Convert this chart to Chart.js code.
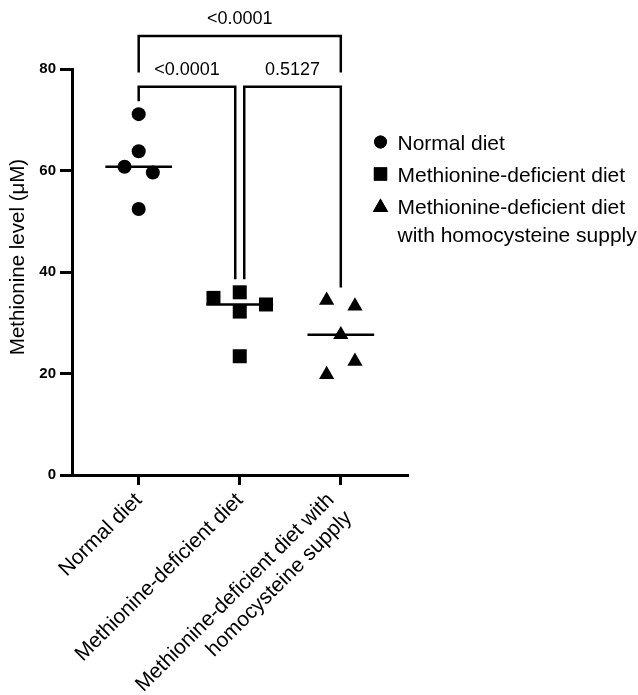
<!DOCTYPE html>
<html>
<head>
<meta charset="utf-8">
<script src="https://cdn.jsdelivr.net/npm/chart.js@4.4.1/dist/chart.umd.min.js"></script>
<style>
html,body{margin:0;padding:0;background:#fff;}
#wrap{width:638px;height:695px;position:relative;}
</style>
</head>
<body>
<div id="wrap"><canvas id="c" width="638" height="695"></canvas></div>
<script>
// ---- data ----
const categories = ['Normal diet', 'Methionine-deficient diet', ['Methionine-deficient diet with', 'homocysteine supply']];
const legendLabels = [['Normal diet'], ['Methionine-deficient diet'], ['Methionine-deficient diet', 'with homocysteine supply']];
const yAxisTitle = 'Methionine level (\u03bcM)';
const yTicks = [0, 20, 40, 60, 80];

const normalDiet = [71.1, 63.8, 60.75, 59.6, 52.4];
const normalJitter = [0, 0, -0.14, 0.14, 0];
const metDeficient = [34.9, 36.0, 32.2, 33.6, 23.4];
const metDeficientJitter = [-0.26, 0, 0, 0.26, 0];
const metHcy = [34.4, 33.3, 27.65, 22.4, 19.8];
const metHcyJitter = [-0.14, 0.14, 0, 0.14, -0.14];

const comparisonFrom = [0, 0, 1];
const comparisonTo = [2, 1, 2];
const comparisonP = ['<0.0001', '<0.0001', '0.5127'];

// ---- build ----
const groups = [normalDiet, metDeficient, metHcy];
const jitters = [normalJitter, metDeficientJitter, metHcyJitter];
const styles = ['circle', 'rect', 'triangle'];
const radii = [7, 9.9, 8.8];
const MEDIAN_HALF = 0.33;

function median(a) {
  const s = [...a].sort((p, q) => p - q);
  const m = Math.floor(s.length / 2);
  return s.length % 2 ? s[m] : (s[m - 1] + s[m]) / 2;
}

const datasets = [];
groups.forEach((vals, gi) => {
  const m = median(vals);
  datasets.push({
    type: 'line',
    data: [{x: gi - MEDIAN_HALF, y: m}, {x: gi + MEDIAN_HALF, y: m}],
    borderColor: '#000', borderWidth: 2.5, pointRadius: 0, fill: false, order: 2
  });
});
groups.forEach((vals, gi) => {
  datasets.push({
    type: 'scatter',
    label: legendLabels[gi].join(' '),
    data: vals.map((v, k) => ({x: gi + jitters[gi][k], y: v})),
    pointStyle: styles[gi], pointRadius: radii[gi], pointHoverRadius: radii[gi],
    backgroundColor: '#000', borderColor: '#000', borderWidth: 0, order: 1
  });
});

const FONT = "'Liberation Sans', Arial, Helvetica, sans-serif";

const annot = {
  id: 'annot',
  beforeDraw(chart) {
    // centre the two-line category label on its tick like the reference
    const xs = chart.scales.x;
    const items = xs.getLabelItems(chart.chartArea);
    items.forEach(it => {
      if (Array.isArray(it.label) && !it._shifted) {
        it.options.translation[0] -= 10;
        it._shifted = true;
      }
    });
  },
  afterDraw(chart) {
    const ctx = chart.ctx;
    const xs = chart.scales.x, ys = chart.scales.y;
    const ca = chart.chartArea;
    ctx.save();
    ctx.strokeStyle = '#000';
    ctx.fillStyle = '#000';
    ctx.lineWidth = 2.5;
    ctx.lineCap = 'butt';
    // brackets
    const gap = 4.5;
    const legEnd = gi => ys.getPixelForValue(Math.max(...groups[gi])) - 13;
    const lowY = ys.getPixelForValue(76.5);
    const highY = ys.getPixelForValue(86.5);
    const highLeg = ys.getPixelForValue(79.3);
    for (let i = 0; i < comparisonP.length; i++) {
      const a = comparisonFrom[i], b = comparisonTo[i];
      const span = b - a;
      let xa = xs.getPixelForValue(a), xb = xs.getPixelForValue(b);
      let y, ya, yb;
      if (span > 1) {
        y = highY; ya = highLeg; yb = highLeg;
      } else {
        y = lowY;
        ya = legEnd(a); yb = legEnd(b);
        if (a === 1) xa += gap;
        if (b === 1) xb -= gap;
      }
      ctx.beginPath();
      ctx.moveTo(xa, ya);
      ctx.lineTo(xa, y);
      ctx.lineTo(xb, y);
      ctx.lineTo(xb, yb);
      ctx.stroke();
      ctx.font = '18px ' + FONT;
      ctx.textAlign = 'center';
      ctx.textBaseline = 'alphabetic';
      ctx.fillText(comparisonP[i], (xa + xb) / 2, y - 12);
    }
    // y axis title
    ctx.save();
    ctx.translate(18.5, (ca.top + ca.bottom) / 2 - 15);
    ctx.rotate(-Math.PI / 2);
    ctx.font = '20.5px ' + FONT;
    ctx.textAlign = 'center';
    ctx.textBaseline = 'middle';
    ctx.fillText(yAxisTitle, 0, 0);
    ctx.restore();
    // legend
    const lx = ca.right - 27.5;
    const tx = ca.right - 10.5;
    const legRadii = [6.4, 9.4, 8.9];
    const rowMid = [142, 174, 206];
    const baselines = [[149.5], [181.5], [213.5, 242]];
    ctx.font = '21px ' + FONT;
    ctx.textAlign = 'left';
    ctx.textBaseline = 'alphabetic';
    for (let i = 0; i < legendLabels.length; i++) {
      Chart.helpers.drawPoint(ctx, {pointStyle: styles[i], radius: legRadii[i], rotation: 0, borderWidth: 0}, lx, rowMid[i] + (i === 2 ? 1.5 : 0));
      ctx.fill();
      legendLabels[i].forEach((t, k) => ctx.fillText(t, tx, baselines[i][k]));
    }
    ctx.restore();
  }
};

new Chart(document.getElementById('c'), {
  data: {datasets},
  options: {
    responsive: false,
    animation: false,
    clip: false,
    layout: {padding: {top: 69, right: 230, left: 0, bottom: 0}},
    plugins: {legend: {display: false}, tooltip: {enabled: false}},
    scales: {
      x: {
        type: 'linear', min: -0.66, max: 2.665,
        afterBuildTicks: s => { s.ticks = categories.map((c, i) => ({value: i})); },
        afterFit: s => { s.height = 220; },
        border: {display: true, color: '#000', width: 3},
        grid: {display: true, drawOnChartArea: false, drawTicks: true, tickLength: 10, tickWidth: 3, tickColor: '#000'},
        ticks: {
          autoSkip: false, minRotation: 45, maxRotation: 45, color: '#000', padding: 3,
          font: {family: FONT, size: 21},
          callback: v => categories[v]
        }
      },
      y: {
        type: 'linear', min: 0, max: 80,
        afterBuildTicks: s => { s.ticks = yTicks.map(v => ({value: v})); },
        afterFit: s => { s.width = 72; },
        border: {display: true, color: '#000', width: 3},
        grid: {display: true, drawOnChartArea: false, drawTicks: true, tickLength: 12, tickWidth: 3, tickColor: '#000'},
        ticks: {color: '#000', padding: 4, font: {family: FONT, size: 15, weight: 'bold'}}
      }
    }
  },
  plugins: [annot]
});
</script>
</body>
</html>
